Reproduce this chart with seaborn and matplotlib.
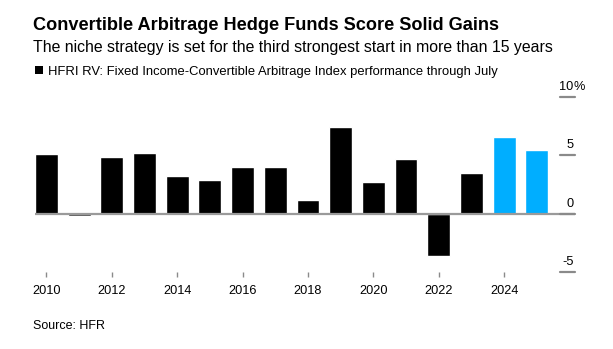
import matplotlib
matplotlib.use('Agg')
import matplotlib.pyplot as plt
import matplotlib.transforms as mtransforms
from matplotlib.patches import Rectangle
import seaborn as sns
import pandas as pd

# ---- data ----
years = list(range(2010, 2026))
values = [5.1, -0.2, 4.85, 5.2, 3.2, 2.85, 4.0, 4.0, 1.15, 7.45, 2.7, 4.65, -3.65, 3.5, 6.6, 5.5]
groups = ['past'] * 14 + ['recent', 'recent']
y_ticks = [-5, 0, 5, 10]
y_tick_labels = ['-5', '0', '5', '10']
x_ticks = list(range(2010, 2026, 2))
x_tick_labels = [str(y) for y in x_ticks]

title = "Convertible Arbitrage Hedge Funds Score Solid Gains"
subtitle = "The niche strategy is set for the third strongest start in more than 15 years"
legend_label = "HFRI RV: Fixed Income-Convertible Arbitrage Index performance through July"
source = "Source: HFR"

BLUE = '#00aeff'
GRAY = '#9a9a9a'
TICK = '#8a8a8a'

sns.set_theme(style='white')
plt.rcParams['font.family'] = ['Liberation Sans', 'DejaVu Sans']

W, H = 613, 349
fig = plt.figure(figsize=(W / 100, H / 100), dpi=100)
fig.patch.set_facecolor('white')

ax_l, ax_r, ax_t, ax_b = 35, 575, 97, 272
ax = fig.add_axes([ax_l / W, 1 - ax_b / H, (ax_r - ax_l) / W, (ax_b - ax_t) / H])

df = pd.DataFrame({'year': years, 'value': values, 'group': groups})
sns.barplot(data=df, x='year', y='value', hue='group',
            palette={'past': '#000000', 'recent': BLUE},
            native_scale=True, width=0.7, dodge=False, legend=False,
            saturation=1, ax=ax, zorder=2)

ax.set_xlim(2009.65, 2026.17)
ax.set_ylim(-5, 10)
for s in ax.spines.values():
    s.set_visible(False)
ax.set_xlabel('')
ax.set_ylabel('')
ax.set_yticks([])
ax.set_xticks(x_ticks)
ax.set_xticklabels(x_tick_labels, fontsize=9.2, color='#000000')
ax.tick_params(axis='x', bottom=True, length=3.6, width=1, color=TICK,
               pad=5.5, direction='out')
ax.grid(False)

# zero line
ax.axhline(0, color=GRAY, lw=1.6, zorder=3)

# right-side tick marks and labels
trans = mtransforms.blended_transform_factory(ax.transAxes, ax.transData)
tick_w = 15 / (ax_r - ax_l)
for yv, lab in zip(y_ticks, y_tick_labels):
    ax.plot([1 - tick_w, 1], [yv, yv], transform=trans, color=TICK,
            lw=1.6, clip_on=False, zorder=4)
    ax.annotate(lab, xy=(1, yv), xycoords=trans, xytext=(-1, 5),
                textcoords='offset points', ha='right', va='baseline',
                fontsize=9.2, color='#000000', annotation_clip=False)
    if yv == 10:
        ax.annotate('%', xy=(1, yv), xycoords=trans, xytext=(-1, 5),
                    textcoords='offset points', ha='left', va='baseline',
                    fontsize=9.2, color='#000000', annotation_clip=False)

# header texts
x0 = 33 / W
fig.text(x0, 1 - 29.5 / H, title, fontsize=13.1, fontweight='bold',
         va='baseline', ha='left', color='#000000')
fig.text(x0, 1 - 52 / H, subtitle, fontsize=11.4, va='baseline', ha='left',
         color='#000000')
fig.patches.append(Rectangle((35 / W, 1 - 74 / H), 8 / W, 8 / H,
                             transform=fig.transFigure, facecolor='#000000',
                             edgecolor='none'))
fig.text(48 / W, 1 - 75 / H, legend_label, fontsize=9.4, va='baseline',
         ha='left', color='#000000')
fig.text(x0, 1 - 329 / H, source, fontsize=9, va='baseline', ha='left',
         color='#000000')

fig.savefig('out.png', dpi=100, facecolor='white')
